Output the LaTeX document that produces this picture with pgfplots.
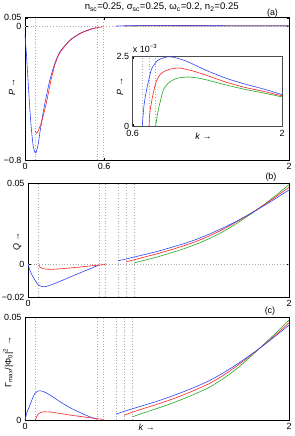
\documentclass[border=0pt]{standalone}
\usepackage{fontspec}
\setmainfont{Liberation Sans}
\usepackage{pgfplots}
\pgfplotsset{compat=1.18}
\definecolor{cb}{RGB}{45,65,255}
\definecolor{cr}{RGB}{255,30,30}
\definecolor{cg}{RGB}{30,170,30}
\pgfplotsset{
  every axis/.append style={
    scale only axis, font=\fontsize{9}{10}\selectfont,
    tick align=inside, axis line style={line width=0.6pt},
    tick style={black, line width=0.4pt}, major tick length=2.5bp,
    clip=false, xmin=0, xmax=2, scaled y ticks=false, scaled x ticks=false,
  },
  vl/.style={gray!65, dash pattern=on 0.8bp off 2bp, line width=0.5pt, forget plot},
  cur/.style={line width=0.6pt, smooth, tension=0.4},
}
\begin{document}
\begin{tikzpicture}
\useasboundingbox (0,0) rectangle (295bp,-436bp);
% ---------------- panel (a)
\begin{axis}[at={(25bp,-160bp)}, anchor=south west, width=264bp, height=142.3bp,
  ymin=-0.8, ymax=0.05,
  xtick={0,0.6,2}, xticklabels={0,0.6,2},
  ytick={-0.8,0,0.05}, yticklabels={−0.8,0,0.05},
  ylabel={\textit{P} →}, ylabel style={at={(axis description cs:-0.049,0.514)}, anchor=center},
]
\addplot[vl] coordinates {(0,0) (2,0)};
\addplot[vl] coordinates {(0.078,-0.8) (0.078,0.05)};
\addplot[vl] coordinates {(0.545,-0.8) (0.545,0.05)};
\addplot[vl] coordinates {(0.593,-0.8) (0.593,0.05)};
\addplot[cur, cb] coordinates {(0,-0.053) (0.0126,-0.19) (0.025,-0.35) (0.038,-0.51) (0.05,-0.63) (0.063,-0.72) (0.076,-0.756) (0.083,-0.757) (0.093,-0.73) (0.101,-0.70) (0.118,-0.61) (0.139,-0.51) (0.164,-0.41) (0.189,-0.32) (0.227,-0.22) (0.265,-0.153) (0.341,-0.083) (0.417,-0.043) (0.492,-0.019) (0.545,-0.009)};
\addplot[cur, cr] coordinates {(0.078,-0.625) (0.085,-0.64) (0.093,-0.638) (0.101,-0.625) (0.118,-0.59) (0.134,-0.55) (0.164,-0.45) (0.195,-0.33) (0.227,-0.23) (0.265,-0.158) (0.341,-0.086) (0.417,-0.045) (0.492,-0.021) (0.545,-0.010) (0.593,-0.004)};
\addplot[cur, cg] coordinates {(0.816,0) (0.84,0.00057) (0.888,0.00129) (0.95,0.00158) (1.11,0.00175) (1.3,0.00164) (1.65,0.00131) (2.0,0.00104)};
\addplot[cur, cr] coordinates {(0.753,0) (0.78,0.00093) (0.826,0.00164) (0.89,0.00194) (1.04,0.00207) (1.3,0.0018) (1.65,0.00138) (2.0,0.00108)};
\addplot[cur, cb] coordinates {(0.69,0) (0.73,0.00129) (0.78,0.00206) (0.90,0.00245) (1.0,0.00244) (1.3,0.00197) (1.65,0.0015) (2.0,0.00112)};
\node[anchor=center] at (axis description cs:0.9375,1) [yshift=5bp] {(a)};
\node[anchor=base, font=\fontsize{9.6}{10}\selectfont] at (axis description cs:0.518,1) [yshift=8bp] {n\textsubscript{sc}=0.25, σ\textsubscript{sc}=0.25, ω\textsubscript{c}=0.2, n\textsubscript{2}=0.25};
\end{axis}
% ---------------- inset
\begin{axis}[at={(132.7bp,-126bp)}, anchor=south west, width=149.3bp, height=70bp,
  xmin=0.6, xmax=2, ymin=0, ymax=2.5,
  axis background/.style={fill=white},
  axis line style={black!70, line width=0.6pt},
  xtick={0.6,2}, xticklabels={0.6,2}, xticklabel style={yshift=-0.8bp},
  ytick={0,2.5}, yticklabels={0,2.5},
  ylabel={\textit{P} →}, ylabel style={at={(axis description cs:-0.085,0.564)}, anchor=center},
  xlabel={\textit{k} →}, xlabel style={at={(axis description cs:0.474,-0.153)}, anchor=center},
]
\addplot[vl] coordinates {(0.69,0) (0.69,2.5)};
\addplot[vl] coordinates {(0.753,0) (0.753,2.5)};
\addplot[vl] coordinates {(0.816,0) (0.816,2.5)};
\addplot[cur, cg] coordinates {(0.816,0) (0.825,0.25) (0.84,0.57) (0.86,0.9) (0.888,1.29) (0.92,1.47) (0.95,1.58) (1.01,1.70) (1.11,1.75) (1.2,1.72) (1.3,1.64) (1.48,1.46) (1.65,1.31) (1.8,1.20) (1.9,1.12) (2.0,1.04)};
\addplot[cur, cr] coordinates {(0.753,0) (0.76,0.45) (0.78,0.93) (0.80,1.3) (0.826,1.64) (0.86,1.85) (0.89,1.94) (0.95,2.03) (1.04,2.07) (1.17,1.96) (1.3,1.80) (1.48,1.56) (1.65,1.38) (1.8,1.26) (1.9,1.17) (2.0,1.08)};
\addplot[cur, cb] coordinates {(0.69,0) (0.70,0.5) (0.71,0.85) (0.73,1.29) (0.76,1.8) (0.78,2.06) (0.83,2.33) (0.90,2.45) (0.95,2.47) (1.0,2.44) (1.1,2.32) (1.17,2.2) (1.3,1.97) (1.48,1.70) (1.65,1.5) (1.8,1.35) (1.9,1.24) (2.0,1.12)};
\node[anchor=south west, inner sep=0pt] at (axis description cs:0,1) [yshift=3bp] {x 10\textsuperscript{−3}};
\end{axis}
% ---------------- panel (b)
\begin{axis}[at={(28bp,-297bp)}, anchor=south west, width=261bp, height=114bp,
  ymin=-0.02, ymax=0.05,
  xtick={0,2}, xticklabels={0,2},
  ytick={-0.02,0,0.05}, yticklabels={−0.02,0,0.05},
  ylabel={\textit{Q} →}, ylabel style={at={(axis description cs:-0.041,0.485)}, anchor=center},
]
\addplot[vl] coordinates {(0,0) (2,0)};
\foreach \v in {0.082,0.545,0.593,0.69,0.753,0.816} {
  \edef\temp{\noexpand\addplot[vl] coordinates {(\v,-0.02) (\v,0.05)};}\temp
}
\addplot[cur, cb] coordinates {(0,0) (0.018,-0.0043) (0.038,-0.0076) (0.06,-0.0105) (0.077,-0.0125) (0.1,-0.0134) (0.117,-0.0137) (0.14,-0.0135) (0.19,-0.0122) (0.25,-0.0102) (0.294,-0.0087) (0.35,-0.0068) (0.42,-0.0045) (0.48,-0.0025) (0.545,-0.0003)};
\addplot[cur, cr] coordinates {(0.082,-0.0003) (0.09,-0.0015) (0.11,-0.0024) (0.14,-0.0029) (0.18,-0.0030) (0.245,-0.0027) (0.33,-0.0021) (0.41,-0.0015) (0.48,-0.0009) (0.545,-0.0004) (0.593,0)};
\addplot[cur, cg] coordinates {(0.816,0.0010) (0.9,0.0027) (1.0,0.0048) (1.1,0.0072) (1.2,0.0098) (1.3,0.0128) (1.4,0.0163) (1.5,0.0204) (1.6,0.0252) (1.7,0.0305) (1.8,0.0362) (1.9,0.0424) (2.0,0.0490)};
\addplot[cur, cr] coordinates {(0.753,0.0016) (0.8,0.0026) (0.9,0.0047) (1.0,0.0068) (1.1,0.0091) (1.2,0.0116) (1.3,0.0145) (1.4,0.0179) (1.5,0.0218) (1.6,0.0262) (1.7,0.0310) (1.8,0.0361) (1.9,0.0416) (2.0,0.0474)};
\addplot[cur, cb] coordinates {(0.69,0.0022) (0.75,0.0033) (0.8,0.0043) (0.9,0.0062) (1.0,0.0082) (1.1,0.0105) (1.2,0.0129) (1.3,0.0157) (1.4,0.0190) (1.5,0.0226) (1.6,0.0266) (1.7,0.0310) (1.8,0.0357) (1.9,0.0406) (2.0,0.0458)};
\node[anchor=center] at (axis description cs:0.931,1) [yshift=6bp] {(b)};
\end{axis}
% ---------------- panel (c)
\begin{axis}[at={(25bp,-420bp)}, anchor=south west, width=264bp, height=103bp,
  ymin=0, ymax=0.05,
  xtick={0,2}, xticklabels={0,2},
  ytick={0,0.05}, yticklabels={0,0.05},
  ylabel={Γ\textsubscript{max}/|Φ\textsubscript{0}|\textsuperscript{2} →}, ylabel style={at={(axis description cs:-0.063,0.563)}, anchor=center},
  xlabel={\textit{k} →}, xlabel style={at={(axis description cs:0.461,-0.075)}, anchor=center},
]
\foreach \v in {0.078,0.545,0.593,0.69,0.753,0.816} {
  \edef\temp{\noexpand\addplot[vl] coordinates {(\v,0) (\v,0.05)};}\temp
}
\addplot[cur, cb] coordinates {(0,0) (0.013,0.0033) (0.038,0.0073) (0.06,0.011) (0.076,0.013) (0.10,0.0141) (0.114,0.0142) (0.14,0.0138) (0.19,0.0121) (0.265,0.0089) (0.34,0.0060) (0.417,0.0036) (0.49,0.0016) (0.545,0.0004)};
\addplot[cur, cr] coordinates {(0.078,0) (0.09,0.0018) (0.10,0.0029) (0.12,0.0037) (0.15,0.0040) (0.215,0.0037) (0.34,0.0024) (0.467,0.0013) (0.593,0.0003)};
\addplot[cur, cg] coordinates {(0.816,0.0016) (0.9,0.0035) (1.0,0.0056) (1.1,0.0078) (1.2,0.0103) (1.3,0.0130) (1.4,0.0160) (1.5,0.0200) (1.6,0.0247) (1.7,0.0302) (1.8,0.0362) (1.9,0.0422) (2.0,0.0485)};
\addplot[cur, cr] coordinates {(0.753,0.0023) (0.8,0.0035) (0.9,0.0056) (1.0,0.0076) (1.1,0.0098) (1.2,0.0122) (1.3,0.0149) (1.4,0.0178) (1.5,0.0216) (1.6,0.0260) (1.7,0.0309) (1.8,0.0360) (1.9,0.0414) (2.0,0.0472)};
\addplot[cur, cb] coordinates {(0.69,0.0029) (0.8,0.0052) (0.9,0.0071) (1.0,0.0091) (1.1,0.0113) (1.2,0.0137) (1.3,0.0163) (1.4,0.0192) (1.5,0.0228) (1.6,0.0268) (1.7,0.0312) (1.8,0.0359) (1.9,0.0409) (2.0,0.0461)};
\node[anchor=center] at (axis description cs:0.928,1) [yshift=6bp] {(c)};
\end{axis}
\end{tikzpicture}
\end{document}
